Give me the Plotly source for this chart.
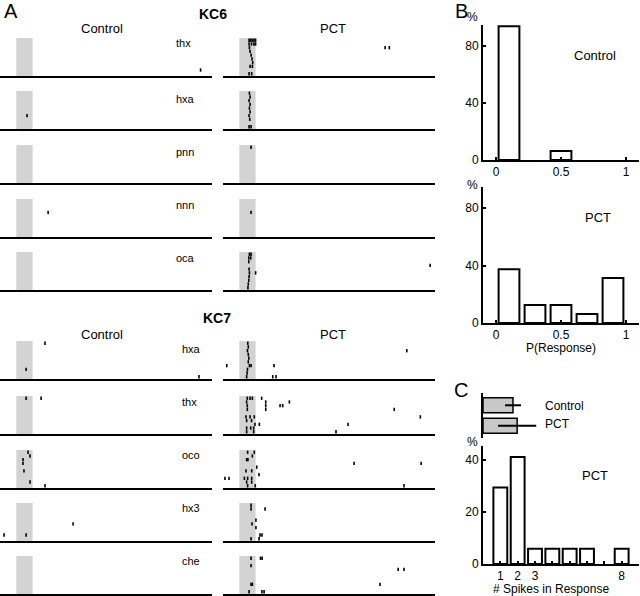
import plotly.graph_objects as go

# ---------------- DATA ----------------
# Panel A rasters: (trial, time in s); stimulus window 0-1 s
TIME_RANGE = [-1, 12]
STIM_WINDOW = [0, 1]
N_TRIALS = 10

KC6_ODORS = ["thx", "hxa", "pnn", "nnn", "oca"]
KC7_ODORS = ["hxa", "thx", "oco", "hx3", "che"]

KC6_CTRL_THX = [(9, 11.3)]
KC6_CTRL_HXA = [(7, 0.66)]
KC6_CTRL_PNN = []
KC6_CTRL_NNN = [(4, 1.95)]
KC6_CTRL_OCA = []

KC6_PCT_THX = [(1, 0.6), (1, 0.7), (1, 0.8), (1, 0.9), (1, 1.0),
               (2, 0.6), (2, 0.75), (2, 0.9), (2, 1.0),
               (3, 0.62), (3, 8.94), (3, 9.2),
               (4, 0.66), (5, 0.72), (6, 0.78), (7, 0.82),
               (8, 0.66), (8, 0.8), (10, 0.6), (10, 0.76)]
KC6_PCT_HXA = [(1, 0.62), (2, 0.66), (3, 0.6), (4, 0.66), (5, 0.62),
               (6, 0.66), (7, 0.6), (8, 0.64), (10, 0.6), (10, 0.72)]
KC6_PCT_PNN = [(1, 0.72)]
KC6_PCT_NNN = [(4, 0.72)]
KC6_PCT_OCA = [(1, 0.62), (1, 0.72), (2, 0.58), (2, 0.7), (3, 0.58),
               (4, 11.7), (5, 0.6), (6, 0.62), (6, 1.0), (7, 0.6),
               (8, 0.58), (9, 0.55), (10, 0.53)]

KC7_CTRL_HXA = [(1, 1.76), (8, 0.6), (10, 11.2)]
KC7_CTRL_THX = [(1, 0.6), (1, 1.52)]
KC7_CTRL_OCO = [(1, 0.72), (2, 0.84), (3, 0.41), (4, 0.41), (6, 0.47),
                (9, 0.84), (10, 1.76)]
KC7_CTRL_HX3 = [(9, -0.75), (9, 0.6), (6, 3.48)]
KC7_CTRL_CHE = []

KC7_PCT_HXA = [(1, 0.52), (2, 0.55), (3, 0.5), (4, 0.55), (5, 0.58),
               (6, 0.55), (7, 0.62), (7, 0.72), (8, 0.5), (9, 0.48),
               (10, 0.45), (7, -0.77), (7, 2.13), (10, 2.05), (10, 2.25),
               (3, 10.27)]
KC7_PCT_THX = [(1, 0.49), (1, 0.66), (1, 0.8), (1, 1.37), (2, 0.45),
               (3, 0.49), (4, 0.49), (2, 1.62), (3, 1.62), (4, 1.62),
               (3, 2.5), (3, 2.66), (2, 3.07), (6, 0.41), (6, 0.66),
               (6, 0.92), (7, 0.45), (7, 0.75), (8, 0.96), (8, 1.23),
               (9, 0.45), (9, 0.7), (9, 0.88), (10, 0.45), (10, 0.88),
               (10, 5.93), (8, 6.67), (4, 9.5), (6, 11.1)]
KC7_PCT_OCO = [(1, 0.51), (1, 0.92), (2, 0.8), (3, 0.45), (3, 0.53),
               (5, 1.07), (6, 0.41), (6, 0.76), (7, 1.21), (8, -0.88),
               (8, -0.63), (8, 0.31), (8, 0.51), (8, 0.76), (9, 0.45),
               (9, 0.76), (10, 0.51), (10, 0.98), (4, 7.04), (4, 11.15),
               (10, 10.1)]
KC7_PCT_HX3 = [(1, 0.72), (2, 0.72), (2, 1.58), (5, 1.02), (6, 0.78),
               (7, 1.02), (9, 1.27), (9, 1.39), (10, 1.21), (10, 0.72)]
KC7_PCT_CHE = [(1, 0.72), (1, 1.3), (1, 1.4), (3, 0.72), (4, 9.74),
               (4, 10.1), (8, 8.63), (8, 0.72), (8, 0.8), (10, 0.6),
               (10, 1.39), (10, 1.52)]

KC6_CTRL = [KC6_CTRL_THX, KC6_CTRL_HXA, KC6_CTRL_PNN, KC6_CTRL_NNN, KC6_CTRL_OCA]
KC6_PCT = [KC6_PCT_THX, KC6_PCT_HXA, KC6_PCT_PNN, KC6_PCT_NNN, KC6_PCT_OCA]
KC7_CTRL = [KC7_CTRL_HXA, KC7_CTRL_THX, KC7_CTRL_OCO, KC7_CTRL_HX3, KC7_CTRL_CHE]
KC7_PCT = [KC7_PCT_HXA, KC7_PCT_THX, KC7_PCT_OCO, KC7_PCT_HX3, KC7_PCT_CHE]

# Panel B: histogram of P(Response)
B_BIN_CENTERS = [0.1, 0.3, 0.5, 0.7, 0.9]
B_CONTROL_PCT = [93.75, 0, 6.25, 0, 0]
B_PCT_PCT = [37.5, 12.5, 12.5, 6.25, 31.25]
B_XTICKS = [0, 0.5, 1]
B_XTICK_TEXT = ["0", "0.5", "1"]
B_YTICKS = [0, 40, 80]

# Panel C: spikes in response
C_SPIKES = [1, 2, 3, 4, 5, 6, 7, 8]
C_PCT_PCT = [29.4, 41.2, 5.9, 5.9, 5.9, 5.9, 0, 5.9]
C_XTICK_TEXT = ["1", "2", "3", "", "", "", "", "8"]
C_YTICKS = [0, 20, 40]
C_MEAN_LABELS = ["Control", "PCT"]
C_MEANS = [1.73, 1.97]
C_SD = [0.46, 1.1]

# ---------------- LAYOUT ----------------
W, H = 640, 596
FONT = "Liberation Sans, Arial, Helvetica, sans-serif"


def fx(px):
    return px / W


def fy(py):
    return 1 - py / H


fig = go.Figure()
layout = dict(width=W, height=H, margin=dict(l=0, r=0, t=0, b=0, autoexpand=False),
              paper_bgcolor="white", plot_bgcolor="rgba(0,0,0,0)",
              showlegend=False, font=dict(family=FONT, size=12, color="black"))
shapes = []
annotations = []
counter = [0]


def new_axes(xdom, ydom, xcfg, ycfg):
    counter[0] += 1
    n = counter[0]
    s = "" if n == 1 else str(n)
    xcfg = dict(xcfg, domain=xdom, anchor="y" + s, fixedrange=True, automargin=False)
    ycfg = dict(ycfg, domain=ydom, anchor="x" + s, fixedrange=True, automargin=False)
    layout["xaxis" + s] = xcfg
    layout["yaxis" + s] = ycfg
    return "x" + s, "y" + s


def ann(text, x, y, size=12, xanchor="center"):
    annotations.append(dict(text=text, x=fx(x), y=fy(y), xref="paper", yref="paper",
                            showarrow=False, xanchor=xanchor, yanchor="middle",
                            font=dict(size=size, family=FONT, color="black")))


RASTER_X = dict(range=TIME_RANGE, showline=True, linewidth=2, linecolor="black",
                showticklabels=False, ticks="", showgrid=False, zeroline=False)
RASTER_Y = dict(range=[N_TRIALS + 0.6, 0.4], visible=False, showgrid=False, zeroline=False)

COL_X0 = [0, 223]
COL_W = 212
GRAY_H = 38
KC6_BASE = [76, 129, 183, 237, 290]
KC7_BASE = [379, 434, 488, 541, 594]
KC6_LABEL_Y = [43, 99, 152, 205, 258]
KC7_LABEL_Y = [349, 402, 455, 508, 561]


def raster(spikes, x0, base):
    xr, yr = new_axes([fx(x0), fx(x0 + COL_W)], [fy(base), fy(base - GRAY_H)],
                      RASTER_X, RASTER_Y)
    shapes.append(dict(type="rect", xref=xr, yref=yr + " domain",
                       x0=STIM_WINDOW[0], x1=STIM_WINDOW[1], y0=0, y1=1,
                       fillcolor="#d3d3d3", line=dict(width=0), layer="below"))
    fig.add_trace(go.Scatter(
        x=[t for _, t in spikes], y=[k for k, _ in spikes], mode="markers",
        marker=dict(symbol="line-ns", size=2.4, color="black",
                    line=dict(width=1.6, color="black")),
        xaxis=xr, yaxis=yr, cliponaxis=False, hoverinfo="skip"))


for i in range(5):
    raster(KC6_CTRL[i], COL_X0[0], KC6_BASE[i])
    raster(KC6_PCT[i], COL_X0[1], KC6_BASE[i])
    ann(KC6_ODORS[i], 174, KC6_LABEL_Y[i], 11, "left")
for i in range(5):
    raster(KC7_CTRL[i], COL_X0[0], KC7_BASE[i])
    raster(KC7_PCT[i], COL_X0[1], KC7_BASE[i])
    ann(KC7_ODORS[i], 180, KC7_LABEL_Y[i], 11, "left")

ann("A", 11, 11, 20)
ann("<b>KC6</b>", 213, 14, 14)
ann("Control", 102, 29, 13)
ann("PCT", 333, 29, 13)
ann("<b>KC7</b>", 217, 318, 14)
ann("Control", 102, 334, 13)
ann("PCT", 333, 334, 13)

# Panel B
AX_X = dict(showline=True, linewidth=2, linecolor="black", ticks="inside", ticklen=3,
            tickwidth=1.5, tickcolor="black", showgrid=False, zeroline=False,
            tickfont=dict(size=12, family=FONT))
AX_Y = dict(AX_X)

BAR_STYLE = dict(color="white", line=dict(color="black", width=2))


def hist_panel(xvals, yvals, y0px, ytop_px, xcfg, ycfg, width):
    xr, yr = new_axes([fx(483), fx(639)], [fy(y0px), fy(ytop_px)], xcfg, ycfg)
    pts = [(a, b) for a, b in zip(xvals, yvals) if b > 0]
    fig.add_trace(go.Bar(x=[a for a, _ in pts], y=[b for _, b in pts], width=width,
                         marker=BAR_STYLE, xaxis=xr, yaxis=yr, hoverinfo="skip"))


bx = dict(AX_X, range=[-0.1, 1.1], tickvals=B_XTICKS, ticktext=B_XTICK_TEXT)
by = dict(AX_Y, range=[0, 94.7], tickvals=B_YTICKS)
hist_panel(B_BIN_CENTERS, B_CONTROL_PCT, 160, 25, bx, by, 0.16)
hist_panel(B_BIN_CENTERS, B_PCT_PCT, 323, 187, bx, by, 0.16)

ann("B", 461, 11, 20)
ann("%", 472, 17, 12)
ann("Control", 595, 55, 13)
ann("%", 472, 185, 12)
ann("PCT", 598, 218, 13)
ann("P(Response)", 561, 348, 12)

# Panel C top: mean spikes
xr, yr = new_axes([fx(483), fx(639)], [fy(438), fy(393)],
                  dict(range=[0, 9], visible=False, showgrid=False, zeroline=False),
                  dict(range=[-0.6, 1.6], showline=True, linewidth=2, linecolor="black",
                       showticklabels=False, ticks="", showgrid=False, zeroline=False))
fig.add_trace(go.Bar(x=C_MEANS, y=[1, 0], orientation="h", width=0.73,
                     marker=dict(color="#c8c8c8", line=dict(color="black", width=1.5)),
                     error_x=dict(type="data", array=C_SD, color="black", thickness=2, width=0),
                     xaxis=xr, yaxis=yr, hoverinfo="skip"))
ann(C_MEAN_LABELS[0], 543, 406, 12, "left")
ann(C_MEAN_LABELS[1], 543, 424, 12, "left")

cx = dict(AX_X, range=[0, 9], tickvals=C_SPIKES, ticktext=C_XTICK_TEXT)
cy = dict(AX_Y, range=[0, 45.4], tickvals=C_YTICKS)
hist_panel(C_SPIKES, C_PCT_PCT, 564, 446, cx, cy, 0.8)

ann("C", 461, 390, 20)
ann("%", 472, 442, 12)
ann("PCT", 595, 475, 13)
ann("# Spikes in Response", 551, 589, 12)

layout["shapes"] = shapes
layout["annotations"] = annotations
fig.update_layout(**layout)
fig.write_html("out.html", config={"displayModeBar": False},
               post_script="document.body.style.margin='0';document.body.style.overflow='hidden';")
